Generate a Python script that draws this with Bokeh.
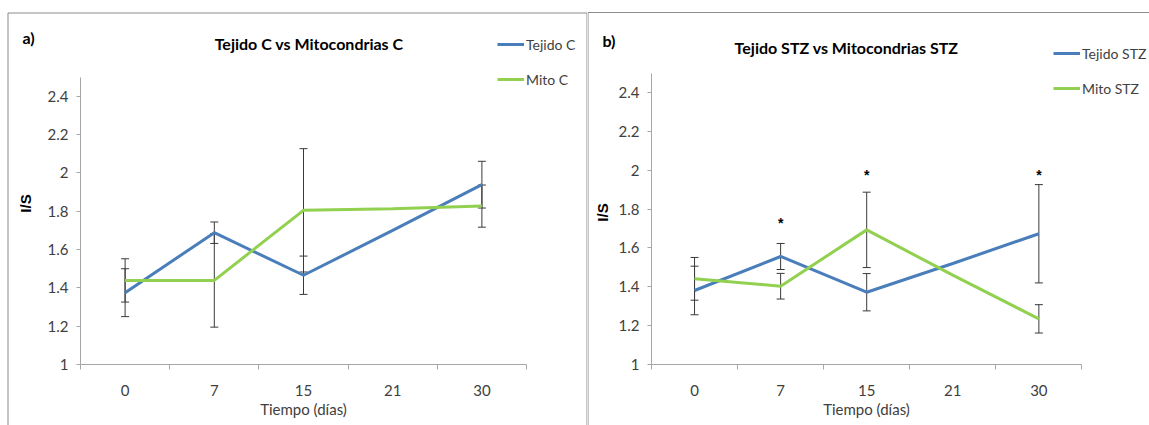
import math
from bokeh.plotting import figure
from bokeh.layouts import row
from bokeh.models import (Label, Legend, LegendItem, FixedTicker, BoxAnnotation,
                          ColumnDataSource, Range1d, LinearAxis)
from bokeh.core.properties import value
from bokeh.embed import file_html
from bokeh.resources import INLINE

# ---------------- data ----------------
days = ["0", "7", "15", "21", "30"]
y_ticks = [1, 1.2, 1.4, 1.6, 1.8, 2, 2.2, 2.4]
y_tick_labels = ["1", "1.2", "1.4", "1.6", "1.8", "2", "2.2", "2.4"]
y_min, y_max = 1, 2.5

a_tejido = [1.375, 1.688, 1.466, 1.70, 1.939]
a_tejido_err = [0.125, 0.056, 0.10, None, 0.122]
a_mito = [1.439, 1.439, 1.805, 1.813, 1.827]
a_mito_err = [0.113, 0.244, 0.322, None, 0.11]

b_tejido = [1.381, 1.556, 1.372, 1.52, 1.673]
b_tejido_err = [0.125, 0.067, 0.096, None, 0.253]
b_mito = [1.441, 1.403, 1.693, 1.46, 1.235]
b_mito_err = [0.11, 0.066, 0.194, None, 0.073]
b_star_days = ["7", "15", "30"]
b_star_y = [1.736, 1.981, 1.981]

# ---------------- style ----------------
FONT = "Lato, 'Liberation Sans', sans-serif"
ARIAL = "'Liberation Sans', Arial, sans-serif"
BLUE = "#4a7ebb"
GREEN = "#92d050"
ERR = "#3a3a3a"
AXIS = "#a6a6a6"
TEXT = "#404040"
BORDER = "#8c8c8c"
H = 425


def make_panel(width, plot_box, title, tag, names, series, errs,
               title_xy, tag_xy, leg_xy, border, ylab_xy, stars=None):
    # plot_box: pixel box (left, right, top, bottom) of the chart area inside the canvas
    PL, PR, PT, PB = plot_box
    n = len(days)
    idx = list(range(1, n + 1))
    xppu = (PR - PL) / n
    yppu = (PB - PT) / (y_max - y_min)
    x_range = Range1d(0.5 - PL / xppu, n + 0.5 + (width - PR) / xppu)
    y_range = Range1d(y_min - (H - PB) / yppu, y_max + PT / yppu)

    p = figure(width=width, height=H, output_backend="svg", toolbar_location=None,
               x_range=x_range, y_range=y_range,
               min_border_left=0, min_border_right=0, min_border_top=0,
               min_border_bottom=0, x_axis_type=None, y_axis_type=None)
    p.outline_line_color = None
    p.background_fill_color = "white"
    p.border_fill_color = "white"

    xax = LinearAxis(
        ticker=FixedTicker(ticks=idx, minor_ticks=[i - 0.5 for i in idx] + [n + 0.5]),
        major_label_overrides=dict(zip(idx, days)),
        fixed_location=y_min, bounds=(0.5, n + 0.5),
        major_tick_out=0, major_tick_in=0, minor_tick_out=5, minor_tick_in=0,
        axis_line_color=AXIS, minor_tick_line_color=AXIS, major_tick_line_color=None,
        major_label_text_font=FONT, major_label_text_font_size="15px",
        major_label_text_color=TEXT, major_label_standoff=15,
        axis_label="Tiempo (días)", axis_label_text_font=FONT,
        axis_label_text_font_size="15px", axis_label_text_font_style="normal",
        axis_label_text_color=TEXT, axis_label_standoff=1)
    p.add_layout(xax, "below")

    yax = LinearAxis(
        ticker=FixedTicker(ticks=y_ticks),
        major_label_overrides=dict(zip(y_ticks, y_tick_labels)),
        fixed_location=0.5, bounds=(y_min, y_max),
        major_tick_out=4, major_tick_in=0, minor_tick_out=0, minor_tick_in=0,
        axis_line_color=AXIS, major_tick_line_color=AXIS,
        major_label_text_font=FONT, major_label_text_font_size="15px",
        major_label_text_color=TEXT, major_label_standoff=8)
    p.add_layout(yax, "left")

    # y-axis title, placed as Excel does (centred on the whole chart box)
    p.add_layout(Label(x=ylab_xy[0], y=ylab_xy[1], x_units="screen", y_units="screen",
                       text="I/S", text_font=ARIAL, text_font_style="bold",
                       text_font_size="15px", text_color="black", angle=math.pi / 2,
                       text_align="center", text_baseline="middle"))

    colors = [BLUE, GREEN]
    renderers = []
    for vals, err in zip(series, errs):
        xs, lo, hi = [], [], []
        for i, v, e in zip(idx, vals, err):
            if e is None:
                continue
            xs.append(i)
            lo.append(v - e)
            hi.append(v + e)
        src = ColumnDataSource(dict(x=xs, lo=lo, hi=hi))
        p.segment(x0="x", y0="lo", x1="x", y1="hi", source=src, line_color=ERR, line_width=1)
        p.scatter(x="x", y="lo", source=src, marker="dash", size=8, line_color=ERR, line_width=1)
        p.scatter(x="x", y="hi", source=src, marker="dash", size=8, line_color=ERR, line_width=1)
    for vals, c in zip(series, colors):
        r = p.line(x=idx, y=vals, line_color=c, line_width=3)
        renderers.append(r)

    if stars is not None:
        sd, sy = stars
        sx = [days.index(d) + 1 for d in sd]
        p.text(x=sx, y=sy, text=["*"] * len(sx), text_font=value(ARIAL),
               text_font_style="bold", text_font_size="14px", text_color="black",
               text_align="center", text_baseline="middle", y_offset=1)

    leg = Legend(items=[LegendItem(label=nm, renderers=[r]) for nm, r in zip(names, renderers)],
                 location=leg_xy, orientation="vertical", padding=0, spacing=15,
                 glyph_width=27, glyph_height=20, label_height=20, label_standoff=2,
                 label_text_font=FONT, label_text_font_size="14px", label_text_color=TEXT,
                 border_line_color=None, background_fill_alpha=0, margin=0)
    p.add_layout(leg, "center")

    p.add_layout(Label(x=title_xy[0], y=title_xy[1], x_units="screen", y_units="screen",
                       text=title, text_font=FONT, text_font_style="bold",
                       text_font_size="16px", text_color="black",
                       text_align="center", text_baseline="middle"))
    p.add_layout(Label(x=tag_xy[0], y=tag_xy[1], x_units="screen", y_units="screen",
                       text=tag, text_font=FONT, text_font_style="bold",
                       text_font_size="16px", text_color="black",
                       text_align="center", text_baseline="middle"))

    bl, br, bt = border
    p.add_layout(BoxAnnotation(left=bl, right=br, top=bt, bottom=-20,
                               left_units="screen", right_units="screen",
                               top_units="screen", bottom_units="screen",
                               fill_alpha=0, fill_color=None,
                               line_color=BORDER, line_width=1, line_alpha=1))
    return p


pa = make_panel(587, (80, 526, 76.7, 364), "Tejido C vs Mitocondrias C", "a)",
                ["Tejido C", "Mito C"], [a_tejido, a_mito], [a_tejido_err, a_mito_err],
                (308.6, 382), (28, 388), (497, 336), (7.5, 586.5, 412.5), (25, 222))
pb = make_panel(562, (64, 494.4, 72.6, 364), "Tejido STZ vs Mitocondrias STZ", "b)",
                ["Tejido STZ", "Mito STZ"], [b_tejido, b_mito], [b_tejido_err, b_mito_err],
                (259, 378), (21.5, 385), (466, 327), (0.5, 600, 413), (15, 213),
                stars=(b_star_days, b_star_y))

layout = row(pa, pb)
open("out.html", "w").write(file_html(layout, INLINE))
